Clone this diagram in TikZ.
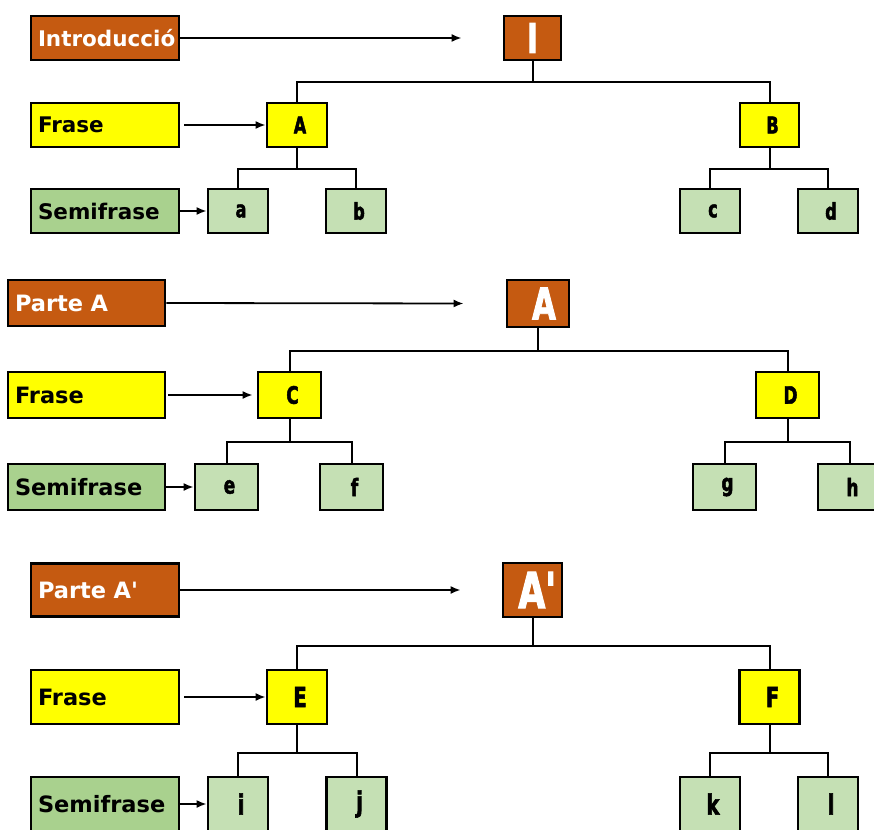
\documentclass[tikz,border=0pt]{standalone}
\usepackage{fontspec}
\newfontfamily\labelfont{DejaVu Sans}
\newfontfamily\letterfont[FakeStretch=0.7,FakeBold=2,UprightFont={* Bold}]{DejaVu Sans}
\usetikzlibrary{arrows.meta}
\definecolor{parte}{HTML}{C55A11}
\definecolor{frase}{HTML}{FFFF00}
\definecolor{semi}{HTML}{A9D18E}
\definecolor{semilight}{HTML}{C5E0B4}

\begin{document}
\begin{tikzpicture}[x=1pt,y=-1pt,
	box/.style={draw,line width=2.8pt,inner sep=0pt},
	tag/.style={box,inner xsep=7pt,text width=#1,align=left},
	tag/.default=134pt,
	letter/.style={box,font=\letterfont},
	conn/.style={line width=2pt},
	arr/.style={line width=1.8pt,-{Latex[length=10pt,width=8pt]}}
	]
	\useasboundingbox (0,0) rectangle (874,829);
	\clip (0,0) rectangle (874,829);
	% Introduccion
	\node[tag,fill=parte,text=white,minimum height=44pt,font=\labelfont\bfseries\fontsize{21.5}{21.5}\selectfont] (lblIntro) at (105,38) {Introducció};
	\node[tag,fill=frase,minimum height=44pt,font=\labelfont\bfseries\fontsize{21.5}{21.5}\selectfont] (lblFrase1) at (105,125) {Frase};
	\node[tag,fill=semi,minimum height=44pt,font=\labelfont\bfseries\fontsize{21.5}{21.5}\selectfont] (lblSemi1) at (105,211) {Semifrase};
	\node[letter,fill=parte,text=white,minimum width=57pt,minimum height=44pt,font=\letterfont\fontsize{41}{41}\selectfont] (nI) at (532.5,38) {I};
	\node[letter,fill=frase,minimum width=60pt,minimum height=44pt,font=\letterfont\fontsize{23}{23}\selectfont] (nA) at (297,125) {\hspace*{6pt}A};
	\node[letter,fill=frase,minimum width=59pt,minimum height=44pt,font=\letterfont\fontsize{23}{23}\selectfont] (nB) at (769.5,125) {\hspace*{6pt}B};
	\foreach \n/\x in {a/238,b/356,c/710,d/828}
		\node[letter,fill=semilight,minimum width=60pt,minimum height=44pt,font=\letterfont\fontsize{23}{23}\selectfont] (n\n) at (\x,211) {\hspace*{6pt}\n};
	\draw[arr] (lblIntro.east) -- ([xshift=-41pt]nI.west);
	\draw[arr,shorten <=4pt] (lblFrase1.east) -- (nA.west);
	\draw[arr] (lblSemi1.east) -- (na.west);
	\draw[conn] (nI.south) -- ++(0,21) -| (nA.north);
	\draw[conn] (nI.south) -- ++(0,21) -| (nB.north);
	\draw[conn] (nA.south) -- ++(0,21) -| (na.north);
	\draw[conn] (nA.south) -- ++(0,21) -| (nb.north);
	\draw[conn] (nB.south) -- ++(0,21) -| (nc.north);
	\draw[conn] (nB.south) -- ++(0,21) -| (nd.north);

	% Parte A
	\node[tag=143pt,fill=parte,text=white,minimum height=46pt,font=\labelfont\bfseries\fontsize{22.5}{22.5}\selectfont] (lblParteA) at (86.5,303) {Parte A};
	\node[tag=143pt,fill=frase,minimum height=46pt,font=\labelfont\bfseries\fontsize{22.5}{22.5}\selectfont] (lblFrase2) at (86.5,395) {Frase};
	\node[tag=143pt,fill=semi,minimum height=46pt,font=\labelfont\bfseries\fontsize{22.5}{22.5}\selectfont] (lblSemi2) at (86.5,487) {Semifrase};
	\node[letter,fill=parte,text=white,minimum width=62pt,minimum height=47pt,font=\letterfont\fontsize{44}{44}\selectfont] (nA2) at (538,303.5) {\hspace*{12pt}A};
	\node[letter,fill=frase,minimum width=63pt,minimum height=46pt,font=\letterfont\fontsize{24}{24}\selectfont] (nC) at (289.5,395) {\hspace*{6pt}C};
	\node[letter,fill=frase,minimum width=63pt,minimum height=46pt,font=\letterfont\fontsize{24}{24}\selectfont] (nD) at (787.5,395) {\hspace*{6pt}D};
	\foreach \n/\x in {e/226.5,f/351.5,g/724.5,h/849.5}
		\node[letter,fill=semilight,minimum width=63pt,minimum height=46pt,font=\letterfont\fontsize{24}{24}\selectfont] (n\n) at (\x,487) {\hspace*{6pt}\n};
	\draw[arr] (lblParteA.east) -- ([xshift=-42pt]nA2.west);
	\draw[arr,shorten <=2pt,shorten >=4pt] (lblFrase2.east) -- (nC.west);
	\draw[arr] (lblSemi2.east) -- (ne.west);
	\draw[conn] (nA2.south) -- ++(0,23) -| (nC.north);
	\draw[conn] (nA2.south) -- ++(0,23) -| (nD.north);
	\draw[conn] (nC.south) -- ++(0,23) -| (ne.north);
	\draw[conn] (nC.south) -- ++(0,23) -| (nf.north);
	\draw[conn] (nD.south) -- ++(0,23) -| (ng.north);
	\draw[conn] (nD.south) -- ++(0,23) -| (nh.north);

	% Parte A'
	\node[tag,fill=parte,text=white,minimum height=53pt,font=\labelfont\bfseries\fontsize{22.5}{22.5}\selectfont] (lblParteAp) at (105,590) {Parte A\textquotesingle};
	\node[tag,fill=frase,minimum height=54pt,font=\labelfont\bfseries\fontsize{22.5}{22.5}\selectfont] (lblFrase3) at (105,697) {Frase};
	\node[tag,fill=semi,minimum height=54pt,font=\labelfont\bfseries\fontsize{22.5}{22.5}\selectfont] (lblSemi3) at (105,804) {Semifrase};
	\node[letter,fill=parte,text=white,minimum width=59pt,minimum height=54pt,font=\letterfont\fontsize{50}{50}\selectfont] (nAp) at (532.5,590) {\hspace*{14pt}A\textquotesingle};
	\node[letter,fill=frase,minimum width=60pt,minimum height=54pt,font=\letterfont\fontsize{28}{28}\selectfont] (nE) at (297,697) {\hspace*{6pt}E};
	\node[letter,fill=frase,minimum width=60pt,minimum height=54pt,font=\letterfont\fontsize{28}{28}\selectfont] (nF) at (769.5,697) {\hspace*{6pt}F};
	\foreach \n/\x in {i/238,j/356.5,k/710,l/828}
		\node[letter,fill=semilight,minimum width=60pt,minimum height=54pt,font=\letterfont\fontsize{28}{28}\selectfont] (n\n) at (\x,804) {\hspace*{6pt}\n};
	\draw[arr] (lblParteAp.east) -- ([xshift=-41pt]nAp.west);
	\draw[arr,shorten <=4pt] (lblFrase3.east) -- (nE.west);
	\draw[arr] (lblSemi3.east) -- (ni.west);
	\draw[conn] (nAp.south) -- ++(0,28) -| (nE.north);
	\draw[conn] (nAp.south) -- ++(0,28) -| (nF.north);
	\draw[conn] (nE.south) -- ++(0,28) -| (ni.north);
	\draw[conn] (nE.south) -- ++(0,28) -| (nj.north);
	\draw[conn] (nF.south) -- ++(0,28) -| (nk.north);
	\draw[conn] (nF.south) -- ++(0,28) -| (nl.north);
\end{tikzpicture}
\end{document}
